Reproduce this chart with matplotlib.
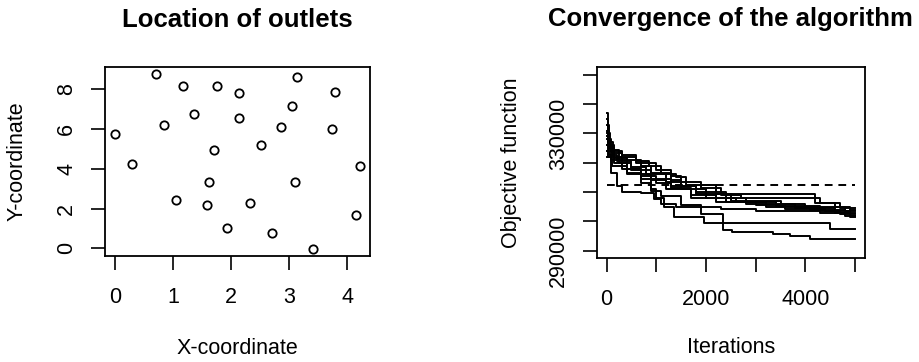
import numpy as np
import matplotlib.pyplot as plt

plt.rcParams['font.family'] = ['Liberation Sans', 'DejaVu Sans']

# outlet locations
x_coord = [0.70, 1.17, 1.75, 2.14, 3.13, 3.79, 3.04, 1.36, 2.14, 0.85, 2.85, 3.73, 0.00,
           2.52, 1.71, 0.30, 4.22, 1.62, 3.10, 1.05, 1.59, 2.32, 4.15, 1.92, 2.70, 3.40]
y_coord = [8.78, 8.16, 8.16, 7.80, 8.61, 7.89, 7.19, 6.75, 6.55, 6.20, 6.10, 6.03, 5.76,
           5.23, 4.96, 4.24, 4.15, 3.35, 3.35, 2.46, 2.19, 2.28, 1.67, 1.04, 0.79, -0.03]

# convergence runs: (iteration, objective) break points of each step curve
run1_it = [0, 20, 60, 150, 300, 600, 850, 1100, 1400, 1600, 2200, 4200, 4600, 4900]
run1_obj = [336900, 330000, 326000, 324000, 322500, 320500, 318800, 316000, 315000, 312500, 309200, 306300, 305000, 304000]
run2_it = [0, 30, 100, 300, 700, 900, 1300, 1500, 1800, 2500, 3500, 4000, 4800]
run2_obj = [330000, 326000, 323500, 321000, 319000, 316500, 314000, 312000, 309500, 307000, 306000, 304800, 303500]
run3_it = [0, 40, 120, 250, 500, 900, 1200, 1700, 2600, 3400, 4300, 4900]
run3_obj = [333000, 327000, 322000, 320000, 317500, 314000, 311000, 308000, 306500, 305200, 303000, 302000]
run4_it = [0, 20, 80, 200, 300, 700, 950, 1100, 1400, 2300, 3000, 4700]
run4_obj = [328000, 322000, 316500, 312000, 310100, 309600, 307500, 306000, 305000, 304200, 303500, 302500]
run5_it = [0, 50, 150, 400, 700, 900, 1000, 1150, 1350, 1950, 4500]
run5_obj = [331000, 325000, 321500, 318000, 314500, 311000, 308000, 305000, 301600, 299500, 297300]
run6_it = [0, 40, 150, 400, 700, 900, 1100, 1500, 1900, 2350, 2520, 3350, 3700, 4090]
run6_obj = [329000, 324000, 320000, 316500, 313000, 310500, 308500, 305500, 302500, 297000, 296500, 295700, 295000, 294100]
run7_it = [0, 50, 200, 500, 800, 1200, 1500, 2000, 2800, 3800, 4600]
run7_obj = [324000, 322500, 320500, 318500, 316000, 313500, 311000, 308000, 306000, 304500, 303000]
run8_it = [0, 80, 300, 700, 1000, 1300, 1800, 2400, 3200, 4100, 4800]
run8_obj = [326000, 321000, 318000, 315500, 313000, 312000, 310000, 306500, 305000, 304000, 302000]
run9_it = [0, 100, 400, 900, 1300, 1700, 2200, 3000, 3600, 4400, 4900]
run9_obj = [322000, 319000, 316000, 314500, 311500, 309000, 306500, 305500, 304300, 303500, 301500]
run10_it = [0, 30, 90, 250, 600, 1000, 1300, 1500, 1900, 2300, 2700, 4300, 4700]
run10_obj = [335000, 328000, 324500, 322000, 320000, 317500, 315500, 313500, 311500, 309000, 308000, 306200, 304500]

runs = [(run1_it, run1_obj), (run2_it, run2_obj), (run3_it, run3_obj), (run4_it, run4_obj),
        (run5_it, run5_obj), (run6_it, run6_obj), (run7_it, run7_obj), (run8_it, run8_obj),
        (run9_it, run9_obj), (run10_it, run10_obj)]
n_iter = 5000
reference = 312400

FS = 15.5

fig = plt.figure(figsize=(9.19, 3.62), dpi=100)
ax1 = fig.add_axes([0.1143, 0.2928, 0.2884, 0.5221])
ax2 = fig.add_axes([0.6493, 0.2873, 0.2919, 0.5285])

ax1.plot(x_coord, y_coord, 'o', mfc='none', mec='black', ms=6, mew=1.3)
xr = max(x_coord) - min(x_coord)
yr = max(y_coord) - min(y_coord)
ax1.set_xlim(min(x_coord) - 0.04 * xr, max(x_coord) + 0.04 * xr)
ax1.set_ylim(min(y_coord) - 0.04 * yr, max(y_coord) + 0.04 * yr)
ax1.set_xticks([0, 1, 2, 3, 4])
ax1.set_yticks([0, 2, 4, 6, 8])
ax1.set_title("Location of outlets", fontsize=18.5, fontweight='bold', pad=29)
ax1.set_xlabel("X-coordinate", fontsize=FS, labelpad=22)
ax1.set_ylabel("Y-coordinate", fontsize=FS, labelpad=21)

for it, obj in runs:
    ax2.step(list(it) + [n_iter], list(obj) + [obj[-1]], where='post', color='black', lw=1.4)
ax2.plot([0, n_iter], [reference, reference], '--', color='black', lw=1.4, dashes=(4, 3))
ax2.set_xlim(-200, 5200)
ax2.set_ylim(287500, 352800)
ax2.set_xticks([0, 1000, 2000, 3000, 4000, 5000])
ax2.set_xticklabels(['0', '', '2000', '', '4000', ''])
ax2.set_yticks([290000, 300000, 310000, 320000, 330000, 340000, 350000])
ax2.set_yticklabels(['290000', '', '', '', '330000', '', ''])
ax2.set_title("Convergence of the algorithm", fontsize=18.5, fontweight='bold', pad=29)
ax2.set_xlabel("Iterations", fontsize=FS, labelpad=20)
ax2.set_ylabel("Objective function", fontsize=FS, labelpad=19)

for ax in (ax1, ax2):
    ax.tick_params(length=10, width=1.2, pad=10, labelsize=FS)
    ax.tick_params(axis='x', pad=12)
    ax.tick_params(axis='y', labelrotation=90)
    for lab in ax.get_yticklabels():
        lab.set_va('center')
    for s in ax.spines.values():
        s.set_linewidth(1.3)

fig.savefig("out.png", dpi=100)
